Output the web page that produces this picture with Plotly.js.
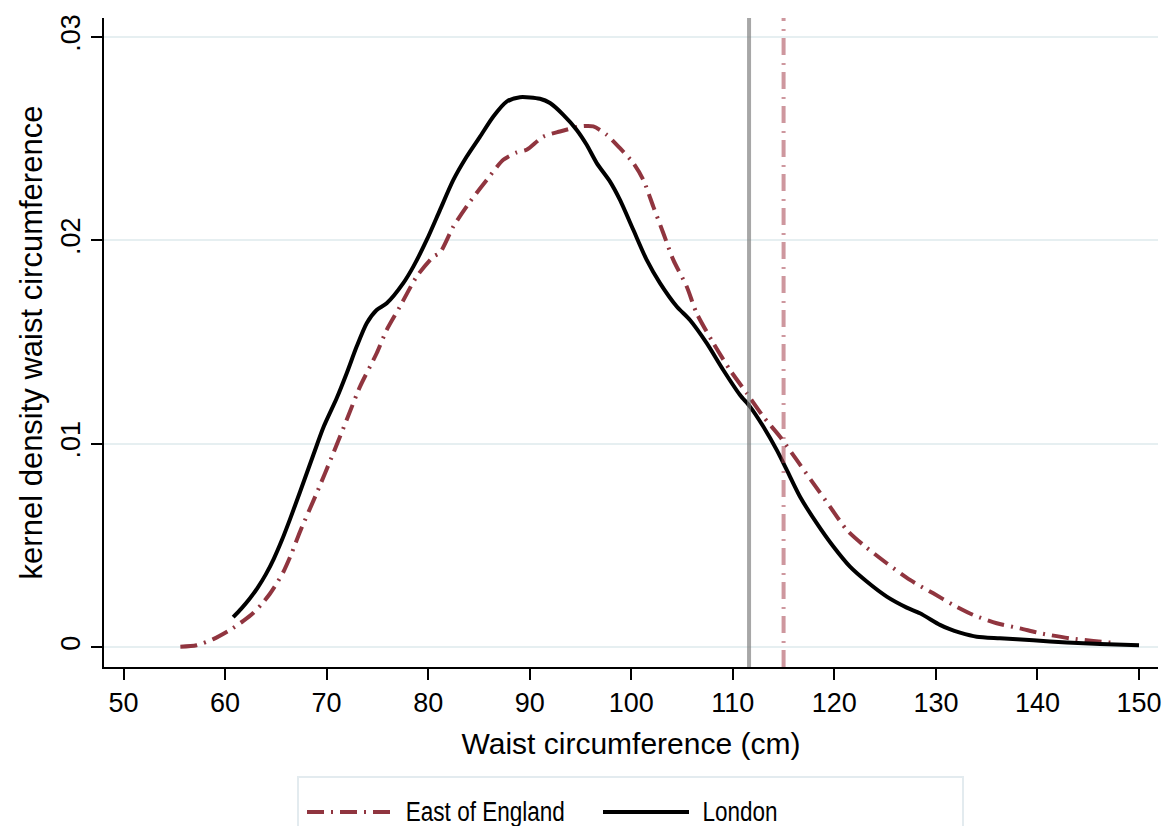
<!DOCTYPE html>
<html>
<head>
<meta charset="utf-8">
<script src="https://cdn.plot.ly/plotly-3.0.1.min.js"></script>
<style>
html,body{margin:0;padding:0;background:#fff;}
#chart{width:1168px;height:826px;}
</style>
</head>
<body>
<div id="chart"></div>
<script>
// ---- data ----
const londonX = [60.8,61.6,62.4,63.2,64.0,64.8,65.6,66.4,67.38,68.69,69.68,71.0,71.98,72.96,73.95,74.93,75.92,77.55,78.54,79.86,81.17,82.48,83.8,85.11,86.42,87.73,89.04,91.01,92.0,93.31,94.63,95.61,96.6,97.91,98.89,100.2,101.52,102.83,104.48,105.78,107.43,109.06,110.71,111.69,113.0,114.32,115.31,116.62,118.26,119.9,121.54,123.19,125.16,127.13,128.43,130.4,131.3,132.37,134.02,136.31,139.59,142.88,146.16,150.0];
const londonY = [0.00148,0.0019,0.00237,0.00292,0.00357,0.00435,0.00527,0.0063,0.00763,0.00945,0.0108,0.01225,0.01347,0.01478,0.01593,0.01658,0.01691,0.0179,0.01871,0.02002,0.0215,0.02297,0.02412,0.0251,0.02609,0.02682,0.02704,0.02696,0.02675,0.02617,0.02543,0.0247,0.0238,0.02289,0.02199,0.02052,0.01904,0.0179,0.01675,0.01609,0.01495,0.01363,0.0124,0.01183,0.01085,0.0097,0.00872,0.0074,0.0061,0.00495,0.00396,0.00323,0.00249,0.00195,0.00167,0.0011,0.0009,0.00072,0.00052,0.00044,0.00034,0.00023,0.00016,0.0001];

const eastX = [55.6,57.2,58.84,60.49,61.8,62.8,63.6,64.4,65.1,65.74,66.5,67.38,69.02,70.66,71.98,73.29,74.93,75.92,77.23,78.87,80.51,81.17,82.48,84.12,85.77,87.4,88.72,89.7,91.34,92.98,94.95,96.26,97.58,98.89,100.2,101.19,102.17,103.16,104.14,105.46,106.44,108.08,109.72,111.37,113.0,114.65,116.29,117.93,119.57,121.22,122.85,125.16,127.45,129.74,131.71,133.68,135.99,138.28,140.25,143.2,145.5,147.8];
const eastY = [0.00003,0.0001,0.0004,0.00085,0.0013,0.0017,0.00212,0.00262,0.00315,0.0037,0.00455,0.00568,0.00757,0.00954,0.01118,0.01281,0.01445,0.0156,0.01675,0.01822,0.0192,0.0194,0.02068,0.0219,0.02297,0.02396,0.02432,0.02445,0.0251,0.02535,0.0256,0.0256,0.02519,0.02453,0.0238,0.02297,0.02166,0.02035,0.01904,0.01773,0.01642,0.01495,0.01363,0.01249,0.01134,0.01035,0.00921,0.00806,0.00691,0.00577,0.00503,0.00413,0.00331,0.00265,0.00208,0.00159,0.00118,0.00093,0.00069,0.00044,0.00031,0.0002];

const seriesNames = ["East of England", "London"];
const xTickVals = [50,60,70,80,90,100,110,120,130,140,150];
const yTickVals = [0, 0.01, 0.02, 0.03];
const yTickText = ["0", ".01", ".02", ".03"];
const londonMean = 111.6;   // vertical reference line (London)
const eastMean = 115.0;     // vertical reference line (East of England)

// ---- styling ----
const FONT = '"Liberation Sans", Arial, sans-serif';
const maroon = '#90353f';
const curveDash = '17px,7px,2px,7px';

const W = 1168, H = 826;
const M = {l:104, r:10, t:18, b:159};
const pw = W - M.l - M.r, ph = H - M.t - M.b;
const px = x => (x - M.l) / pw;      // pixel -> paper x
const py = y => (H - M.b - y) / ph;  // pixel -> paper y

const traces = [
  {x: eastX, y: eastY, name: seriesNames[0], type: 'scatter', mode: 'lines',
   line: {color: maroon, width: 4, dash: curveDash, shape: 'spline', smoothing: 0.7}},
  {x: londonX, y: londonY, name: seriesNames[1], type: 'scatter', mode: 'lines',
   line: {color: '#000000', width: 4, shape: 'spline', smoothing: 0.7}}
];

const shapes = [
  {type:'line', xref:'x', yref:'paper', x0: londonMean, x1: londonMean, y0:0, y1:1,
   line:{color:'rgba(120,120,120,0.65)', width:4}, layer:'above'},
  {type:'line', xref:'x', yref:'paper', x0: eastMean, x1: eastMean, y0:0, y1:1,
   line:{color:'rgba(165,65,78,0.55)', width:4, dash:'17px,7px,2px,8px'}, layer:'above'},
  // legend frame
  {type:'rect', xref:'paper', yref:'paper', x0:px(298), x1:px(963), y0:py(777), y1:py(860),
   line:{color:'#e3ebef', width:2}, fillcolor:'rgba(0,0,0,0)'},
  // legend line samples
  {type:'line', xref:'paper', yref:'paper', x0:px(307), x1:px(393), y0:py(812), y1:py(812),
   line:{color:maroon, width:4, dash:curveDash}},
  {type:'line', xref:'paper', yref:'paper', x0:px(603), x1:px(689), y0:py(812), y1:py(812),
   line:{color:'#000000', width:4}}
];

const legendTextWidths = [159, 75];
const annotations = [
  {xref:'paper', yref:'paper', x:px(485.5), y:py(812), xanchor:'center', yanchor:'middle',
   text: seriesNames[0], showarrow:false, font:{family: FONT, size:27, color:'#000'}},
  {xref:'paper', yref:'paper', x:px(740), y:py(812), xanchor:'center', yanchor:'middle',
   text: seriesNames[1], showarrow:false, font:{family: FONT, size:27, color:'#000'}}
];

const layout = {
  width: W, height: H,
  margin: M,
  paper_bgcolor: '#ffffff',
  plot_bgcolor: '#ffffff',
  showlegend: false,
  font: {family: FONT, color: '#000'},
  xaxis: {
    range: [48.08, 151.87],
    tickmode: 'array', tickvals: xTickVals,
    ticks: 'outside', ticklen: 11, tickwidth: 2, tickcolor: '#000',
    showline: true, linecolor: '#000', linewidth: 2,
    showgrid: false, zeroline: false,
    tickfont: {family: FONT, size: 27, color: '#000'},
    title: {text: 'Waist circumference (cm)', font: {family: FONT, size: 30, color: '#000'}, standoff: 16}
  },
  yaxis: {
    range: [-0.00097, 0.03093],
    tickmode: 'array', tickvals: yTickVals, ticktext: yTickText,
    tickangle: -90,
    ticks: 'outside', ticklen: 11, tickwidth: 2, tickcolor: '#000',
    showline: true, linecolor: '#000', linewidth: 2,
    showgrid: true, gridcolor: '#e6eff1', gridwidth: 2,
    zeroline: false,
    tickfont: {family: FONT, size: 27, color: '#000'},
    title: {text: 'kernel density waist circumference', font: {family: FONT, size: 31, color: '#000'}, standoff: 4}
  },
  shapes: shapes,
  annotations: annotations
};

Plotly.newPlot('chart', traces, layout, {displayModeBar: false, staticPlot: true}).then(gd => {
  // the reference legend uses a condensed face: squeeze the legend labels to its widths
  const texts = gd.querySelectorAll('.annotation-text');
  texts.forEach((t, i) => {
    if (legendTextWidths[i]) {
      t.setAttribute('textLength', legendTextWidths[i]);
      t.setAttribute('lengthAdjust', 'spacingAndGlyphs');
    }
  });
});
</script>
</body>
</html>
